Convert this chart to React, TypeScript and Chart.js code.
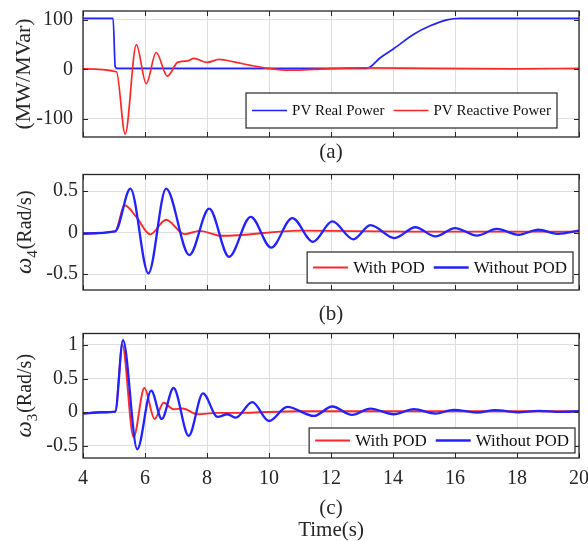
import React, { useEffect, useRef } from 'react';
import { Chart, registerables } from 'chart.js';

Chart.register(...registerables);

const FONT = '"Liberation Serif", "Times New Roman", serif';
const INK = '#262626';
const BLUE = '#2222ff';
const RED = '#ff2626';

// ---- tick labels ----
const xTicks = [4, 6, 8, 10, 12, 14, 16, 18, 20];
const yTicksA = [-100, 0, 100];
const yTicksB = [-0.5, 0, 0.5];
const yTicksC = [-0.5, 0, 0.5, 1];

// ---- (a) PV powers ----
const timeRealPower = [4, 4.97, 5.04, 5.1, 5.3, 13.15, 13.6, 14.03, 14.67, 15.2, 15.74, 16.17, 17, 20];
const realPower = [103, 103, 5, 2, 2, 2, 24, 42, 71, 88, 100, 103, 103, 103];
const timeReactivePower = [4, 5.08, 5.36, 5.72, 6.04, 6.36, 6.72, 7.05, 7.37, 7.58, 8.01, 8.39, 8.87, 9.41, 9.95, 10.5, 11.0, 11.45, 13.05, 17.9, 20];
const reactivePower = [1, -5, -131, 50, -29, 34, -14, 14, 17, 22, 14, 20, 15, 8, 2, -1.5, -1.5, 0, 3, 1, 2];

// ---- (b) omega 4 ----
const timeW4WithPod = [4, 5.04, 5.34, 5.72, 6.17, 6.68, 7.27, 7.76, 8.47, 11.0, 14.5, 20];
const w4WithPod = [-0.01, 0.015, 0.33, 0.19, -0.02, 0.155, -0.018, 0.022, -0.038, 0.025, 0.013, 0.012];
const timeW4WithoutPod = [4, 5.04, 5.53, 6.11, 6.68, 7.43, 8.07, 8.71, 9.41, 10.07, 10.75, 11.42, 12.04, 12.72, 13.27, 14.05, 14.72, 15.37, 16.0, 16.71, 17.35, 18.05, 18.69, 19.33, 20];
const w4WithoutPod = [-0.01, 0.015, 0.53, -0.49, 0.53, -0.27, 0.29, -0.29, 0.19, -0.18, 0.175, -0.11, 0.135, -0.08, 0.09, -0.065, 0.065, -0.045, 0.055, -0.035, 0.045, -0.025, 0.035, -0.015, 0.025];

// ---- (c) omega 3 ----
const timeW3WithPod = [4, 4.6, 5.04, 5.27, 5.63, 5.98, 6.31, 6.6, 6.92, 7.22, 7.69, 8.3, 9.0, 11, 20];
const w3WithPod = [-0.02, 0.0, 0.01, 1.0, -0.37, 0.36, -0.1, 0.14, 0.045, 0.055, -0.03, -0.01, -0.01, 0.015, 0.015];
const timeW3WithoutPod = [4, 4.6, 5.04, 5.29, 5.75, 6.2, 6.54, 6.92, 7.41, 7.87, 8.34, 8.66, 8.93, 9.46, 10.0, 10.59, 11.45, 12.04, 12.68, 13.27, 14.02, 14.67, 15.37, 15.96, 16.7, 17.3, 18.0, 18.7, 19.4, 20];
const w3WithoutPod = [-0.02, 0.0, 0.01, 1.07, -0.55, 0.32, -0.1, 0.36, -0.35, 0.28, -0.07, -0.03, -0.08, 0.15, -0.13, 0.08, -0.055, 0.085, -0.04, 0.055, -0.03, 0.045, -0.02, 0.035, -0.005, 0.03, 0.0, 0.02, 0.005, 0.015];

const pts = (t: number[], v: number[]) => t.map((x, i) => ({ x, y: v[i] }));

// frame with inward ticks (MATLAB style)
const framePlugin = {
  id: 'frame',
  afterDatasetsDraw(chart: any) {
    const { ctx, chartArea: a, scales } = chart;
    const L = 5;
    ctx.save();
    ctx.strokeStyle = INK;
    ctx.lineWidth = 1;
    ctx.beginPath();
    for (const t of scales.x.ticks) {
      const px = Math.round(scales.x.getPixelForValue(t.value)) + 0.5;
      ctx.moveTo(px, a.bottom);
      ctx.lineTo(px, a.bottom - L);
      ctx.moveTo(px, a.top);
      ctx.lineTo(px, a.top + L);
    }
    for (const t of scales.y.ticks) {
      const py = Math.round(scales.y.getPixelForValue(t.value)) + 0.5;
      ctx.moveTo(a.left, py);
      ctx.lineTo(a.left + L, py);
      ctx.moveTo(a.right, py);
      ctx.lineTo(a.right - L, py);
    }
    ctx.stroke();
    ctx.lineWidth = 1.3;
    ctx.strokeRect(a.left, a.top, a.right - a.left, a.bottom - a.top);
    ctx.restore();
  },
};

// boxed legend inside the plot area
const boxLegendPlugin = {
  id: 'boxLegend',
  afterDraw(chart: any, _args: any, o: any) {
    if (!o || !o.order) return;
    const { ctx, chartArea: a } = chart;
    const ds = chart.data.datasets;
    const pad = 6, line = 35, gap = 5, itemGap = 9;
    ctx.save();
    ctx.font = `${o.size}px ${FONT}`;
    const widths = o.order.map((i: number) => ctx.measureText(ds[i].label).width);
    let total = pad * 2 + itemGap * (o.order.length - 1);
    widths.forEach((w: number) => (total += line + gap + w));
    const x0 = a.right - o.right - total;
    const y0 = a.bottom - o.bottom - o.height;
    ctx.fillStyle = '#ffffff';
    ctx.fillRect(x0, y0, total, o.height);
    ctx.strokeStyle = INK;
    ctx.lineWidth = 1.2;
    ctx.strokeRect(x0, y0, total, o.height);
    const cy = y0 + o.height / 2;
    let x = x0 + pad;
    o.order.forEach((i: number, k: number) => {
      ctx.strokeStyle = ds[i].borderColor;
      ctx.lineWidth = ds[i].borderWidth;
      ctx.beginPath();
      ctx.moveTo(x, cy);
      ctx.lineTo(x + line, cy);
      ctx.stroke();
      x += line + gap;
      ctx.fillStyle = '#111';
      ctx.textBaseline = 'middle';
      ctx.textAlign = 'left';
      ctx.fillText(ds[i].label, x, cy + 1);
      x += widths[k] + itemGap;
    });
    ctx.restore();
  },
};

// rotated y title with optional subscript
const yTitlePlugin = {
  id: 'yTitle',
  afterDraw(chart: any, _args: any, o: any) {
    if (!o || !o.rest) return;
    const { ctx, chartArea: a } = chart;
    ctx.save();
    const f1 = `${o.size}px ${FONT}`;
    const fi = `italic ${o.mainSize || o.size}px ${FONT}`;
    const fs = `${o.subSize || o.size}px ${FONT}`;
    ctx.font = fi;
    const w1 = o.main ? ctx.measureText(o.main).width : 0;
    ctx.font = fs;
    const w2 = o.sub ? ctx.measureText(o.sub).width + 1 : 0;
    ctx.font = f1;
    const w3 = ctx.measureText(o.rest).width;
    const W = w1 + w2 + w3;
    ctx.translate(o.x, (a.top + a.bottom) / 2);
    ctx.rotate(-Math.PI / 2);
    ctx.fillStyle = INK;
    ctx.textBaseline = 'alphabetic';
    ctx.textAlign = 'left';
    let x = -W / 2;
    if (o.main) {
      ctx.font = fi;
      ctx.fillText(o.main, x, 0);
      x += w1;
    }
    if (o.sub) {
      ctx.font = fs;
      ctx.fillText(o.sub, x, o.subShift || 5);
      x += w2;
    }
    ctx.font = f1;
    ctx.fillText(o.rest, x, 0);
    ctx.restore();
  },
};

type PanelCfg = {
  height: number;
  padTop: number;
  yMin: number;
  yMax: number;
  yTicks: number[];
  yPad: number;
  showX: boolean;
  xTitle: string | string[];
  xTitleLH: number;
  xHeight: number;
  datasets: any[];
  legend: any;
  yTitle: any;
};

function makeConfig(p: PanelCfg): any {
  const gridColor = '#dedede';
  return {
    type: 'line',
    data: { datasets: p.datasets },
    plugins: [framePlugin, boxLegendPlugin, yTitlePlugin],
    options: {
      responsive: false,
      animation: false,
      events: [],
      layout: { padding: { top: p.padTop, right: 9, left: 0, bottom: 0 } },
      elements: { point: { radius: 0 } },
      plugins: {
        legend: { display: false },
        tooltip: { enabled: false },
        boxLegend: p.legend,
        yTitle: p.yTitle,
      },
      scales: {
        x: {
          type: 'linear',
          min: 4,
          max: 20,
          afterBuildTicks: (s: any) => {
            s.ticks = xTicks.map((v) => ({ value: v }));
          },
          afterFit: (s: any) => {
            s.height = p.xHeight;
            s.paddingLeft = 0;
            s.paddingRight = 0;
          },
          grid: { color: gridColor, drawTicks: false, tickLength: 0 },
          border: { display: false },
          ticks: {
            display: p.showX,
            padding: 9,
            autoSkip: false,
            maxRotation: 0,
            color: INK,
            font: { family: FONT, size: 20 },
            callback: (v: any) => String(v),
          },
          title: {
            display: true,
            text: p.xTitle,
            color: INK,
            padding: 0,
            font: { family: FONT, size: 21, lineHeight: p.xTitleLH },
          },
        },
        y: {
          type: 'linear',
          min: p.yMin,
          max: p.yMax,
          afterBuildTicks: (s: any) => {
            s.ticks = p.yTicks.map((v) => ({ value: v }));
          },
          afterFit: (s: any) => {
            s.width = 83;
            s.paddingTop = 0;
            s.paddingBottom = 0;
          },
          grid: { color: gridColor, drawTicks: false, tickLength: 0 },
          border: { display: false },
          ticks: {
            padding: p.yPad,
            color: INK,
            font: { family: FONT, size: 20 },
            callback: (v: any) => String(v),
          },
        },
      },
    },
  };
}

function line(label: string, t: number[], v: number[], color: string, width: number, order: number) {
  return {
    label,
    data: pts(t, v),
    borderColor: color,
    backgroundColor: color,
    borderWidth: width,
    pointRadius: 0,
    fill: false,
    cubicInterpolationMode: 'monotone',
    order,
  };
}

const panels: { top: number; cfg: PanelCfg }[] = [
  {
    top: 0,
    cfg: {
      height: 165,
      padTop: 11,
      yMin: -137,
      yMax: 118,
      yTicks: yTicksA,
      yPad: 10,
      showX: false,
      xTitle: '(a)',
      xTitleLH: 1.2,
      xHeight: 28,
      datasets: [
        line('PV Real Power', timeRealPower, realPower, BLUE, 1.7, 2),
        line('PV Reactive Power', timeReactivePower, reactivePower, RED, 1.7, 1),
      ],
      legend: { order: [0, 1], size: 15, right: 22, bottom: 9, height: 35 },
      yTitle: { rest: '(MW/MVar)', size: 22, x: 30 },
    },
  },
  {
    top: 160,
    cfg: {
      height: 167,
      padTop: 14.5,
      yMin: -0.69,
      yMax: 0.7,
      yTicks: yTicksB,
      yPad: 5,
      showX: false,
      xTitle: '(b)',
      xTitleLH: 1.2,
      xHeight: 37,
      datasets: [
        line('With POD', timeW4WithPod, w4WithPod, RED, 1.9, 2),
        line('Without POD', timeW4WithoutPod, w4WithoutPod, BLUE, 2.3, 1),
      ],
      legend: { order: [0, 1], size: 17, right: 6, bottom: 7, height: 31 },
      yTitle: { main: 'ω', sub: '4', rest: '(Rad/s)', size: 20, mainSize: 23, subSize: 15, subShift: 6, x: 31 },
    },
  },
  {
    top: 320,
    cfg: {
      height: 221,
      padTop: 13.5,
      yMin: -0.68,
      yMax: 1.17,
      yTicks: yTicksC,
      yPad: 5,
      showX: true,
      xTitle: ['(c)', 'Time(s)'],
      xTitleLH: 22 / 21,
      xHeight: 83,
      datasets: [
        line('With POD', timeW3WithPod, w3WithPod, RED, 1.9, 2),
        line('Without POD', timeW3WithoutPod, w3WithoutPod, BLUE, 2.3, 1),
      ],
      legend: { order: [0, 1], size: 17, right: 4, bottom: 5, height: 25 },
      yTitle: { main: 'ω', sub: '3', rest: '(Rad/s)', size: 20, mainSize: 23, subSize: 15, subShift: 6, x: 31 },
    },
  },
];

function Panel({ top, cfg }: { top: number; cfg: PanelCfg }) {
  const ref = useRef<HTMLCanvasElement | null>(null);
  useEffect(() => {
    if (!ref.current) return;
    const chart = new Chart(ref.current, makeConfig(cfg));
    return () => chart.destroy();
  }, []);
  return (
    <canvas
      ref={ref}
      width={588}
      height={cfg.height}
      style={{ position: 'absolute', left: 0, top, width: 588, height: cfg.height, display: 'block' }}
    />
  );
}

export default function App() {
  return (
    <div style={{ position: 'absolute', left: 0, top: 0, width: 588, height: 541, background: '#fff', overflow: 'hidden' }}>
      {panels.map((p, i) => (
        <Panel key={i} top={p.top} cfg={p.cfg} />
      ))}
    </div>
  );
}
